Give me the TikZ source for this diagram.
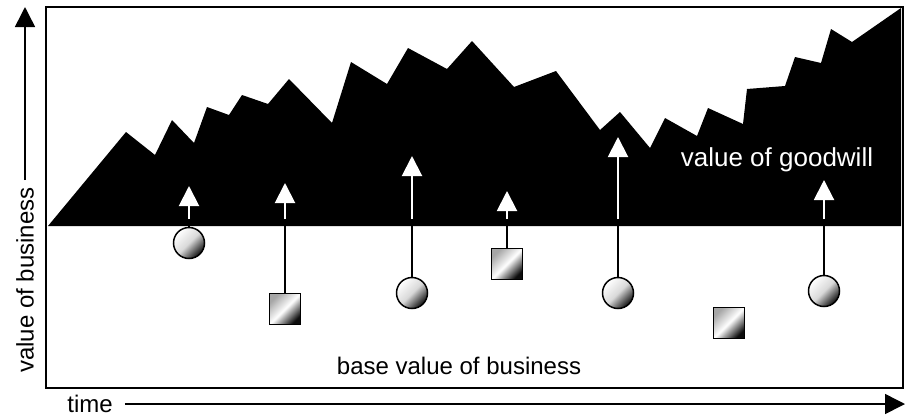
\documentclass[tikz,border=0pt]{standalone}
\usepackage{fontspec}
\setmainfont{Liberation Sans}
\usetikzlibrary{arrows.meta}
\begin{document}
\begin{tikzpicture}[x=1pt, y=-1pt]
\tikzset{rond/.style={draw, circle, line width=1.5pt, minimum size=31pt, inner sep=0pt, top color=white, bottom color=black!95, middle color=black!15, shading angle=45},
carre/.style={draw, rectangle, line width=1.5pt, minimum size=31pt, inner sep=0pt, top color=black!35, bottom color=black!95, middle color=white, shading angle=45},
tige/.style={line width=2pt},
fleche/.style={white, line width=2pt, -{Triangle[width=20pt, length=20pt]}},
axe/.style={line width=1.5pt, -{Triangle[width=20pt, length=20pt]}},
texte/.style={font=\fontsize{24}{28}\selectfont, inner sep=7pt}}
\useasboundingbox (0,0) rectangle (909,416);
\fill (48,226) -- (126,132) -- (155,155) -- (172,120) -- (194,143) -- (207,107) -- (229,115) -- (242,95) -- (268,104) -- (289,79) -- (332,123) -- (351,62) -- (387,84) -- (408,48) -- (447,69) -- (472,41) -- (514,87) -- (556,71) -- (600,130) -- (620,112) -- (650,148) -- (665,118) -- (697,136) -- (708,108) -- (743,124) -- (747,89) -- (785,86) -- (795,57) -- (821,63) -- (831,29) -- (852,42) -- (901,8) -- (901,226) -- cycle;
\draw[line width=2pt] (46,7) rectangle (903,388);
\node[rond] (R1) at (189,243) {};
\node[carre] (C1) at (285,309) {};
\node[rond] (R2) at (412,293) {};
\node[carre] (C2) at (507,264) {};
\node[rond] (R3) at (618,293) {};
\node[carre] (C3) at (729,323) {};
\node[rond] (R4) at (824,291) {};
\coordinate (B1) at (189,226);
\coordinate (B2) at (285,226);
\coordinate (B3) at (412,226);
\coordinate (B4) at (507,226);
\coordinate (B5) at (618,226);
\coordinate (B6) at (824,226);
\coordinate (H1) at (189,219);
\coordinate (H2) at (285,219);
\coordinate (H3) at (412,219);
\coordinate (H4) at (507,219);
\coordinate (H5) at (618,219);
\coordinate (H6) at (824,219);
\coordinate (T1) at (189,186);
\coordinate (T2) at (285,183);
\coordinate (T3) at (412,156);
\coordinate (T4) at (507,191);
\coordinate (T5) at (618,137);
\coordinate (T6) at (824,180);
\draw[tige] (R1) -- (B1);
\draw[tige] (C1) -- (B2);
\draw[tige] (R2) -- (B3);
\draw[tige] (C2) -- (B4);
\draw[tige] (R3) -- (B5);
\draw[tige] (R4) -- (B6);
\draw[fleche] (H1) -- (T1);
\draw[fleche] (H2) -- (T2);
\draw[fleche] (H3) -- (T3);
\draw[fleche] (H4) -- (T4);
\draw[fleche] (H5) -- (T5);
\draw[fleche] (H6) -- (T6);
\node[texte, white, font=\fontsize{26}{30}\selectfont] (GW) at (777,160) {value of goodwill};
\node[texte] (BV) at (459,366) {base value of business};
\node[texte, rotate=90] (VB) at (25,280) {value of business};
\coordinate (VH) at (25,7);
\draw[axe] (VB) -- (VH);
\node[texte, inner xsep=12pt] (TM) at (90,404) {time};
\coordinate (TD) at (905,404);
\draw[axe] (TM) -- (TD);
\end{tikzpicture}
\end{document}
